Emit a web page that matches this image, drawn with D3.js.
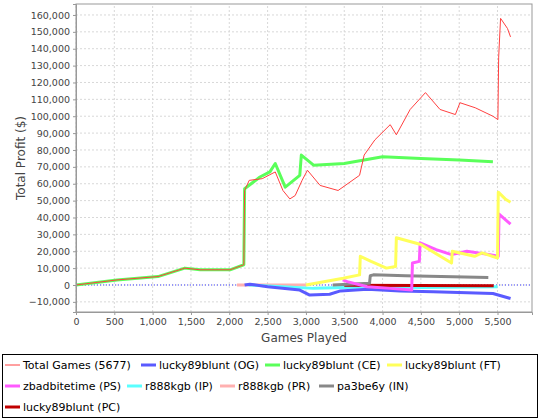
<!DOCTYPE html>
<html><head><meta charset="utf-8">
<script src="https://cdn.jsdelivr.net/npm/d3@7"></script>
<style>body{margin:0;background:#fff;font-family:"DejaVu Sans",sans-serif}</style>
</head><body><svg></svg>
<script>
const width = 540, height = 420;
const margin = {left: 76, top: 4, right: 8, bottom: 108};

// values: [games played, profit]
const totalGames = [[0,0],[535,3000],[1070,5000],[1420,10000],[1620,9000],[2010,9000],[2190,12000],[2200,56000],[2260,62000],[2430,63000],[2600,67000],[2700,56000],[2790,51000],[2860,53000],[2950,62000],[3020,68000],[3185,59000],[3420,56000],[3700,65000],[3760,77000],[3900,86000],[4100,95000],[4180,89000],[4360,104000],[4560,114000],[4750,104000],[4950,101000],[5010,108000],[5210,105000],[5440,100000],[5505,98000],[5515,135000],[5540,158000],[5630,152000],[5670,147000]];
const ogValues = [[2200,0],[2270,500],[2500,-1000],[2920,-3000],[3050,-6000],[3310,-5500],[3450,-3500],[3800,-2500],[4230,-3500],[4660,-4000],[5440,-5000],[5670,-8000]];
const ceValues = [[0,0],[535,3000],[1070,5000],[1420,10000],[1620,9000],[2010,9000],[2190,12000],[2200,57000],[2400,64000],[2530,67000],[2600,72000],[2730,58000],[2920,65000],[2940,77000],[3100,71000],[3500,72000],[4000,76000],[4500,75000],[5000,74000],[5440,73000]];
const ftValues = [[3000,0],[3486,4000],[3700,6000],[3710,17000],[3850,14000],[4050,10000],[4170,11000],[4180,28000],[4500,24000],[4900,13000],[4910,20000],[5200,17000],[5300,19000],[5500,16000],[5510,55000],[5600,51000],[5670,49000]];
const psValues = [[3480,3000],[3540,2000],[3800,-1000],[4100,-2000],[4380,-3000],[4390,13000],[4480,14000],[4490,25000],[4700,21000],[4900,18000],[5100,20000],[5400,18000],[5510,17000],[5520,42000],[5670,36000]];
const ipValues = [[2250,0],[2700,-1000],[3100,-2000],[3500,-1500],[4000,-1000],[4500,-1500],[5500,-1000]];
const prValues = [[2100,0],[3000,0]];
const inValues = [[3350,0],[3830,1000],[3840,5500],[3880,6000],[4300,5500],[5380,4500]];
const pcValues = [[3500,-200],[5450,-500]];

const seriesNames = ["Total Games (5677)","lucky89blunt (OG)","lucky89blunt (CE)","lucky89blunt (FT)","zbadbitetime (PS)","r888kgb (IP)","r888kgb (PR)","pa3be6y (IN)","lucky89blunt (PC)"];
const seriesData = [totalGames, ogValues, ceValues, ftValues, psValues, ipValues, prValues, inValues, pcValues];
const seriesColors = ["#ff4040","#5a5aff","#5aff5a","#ffff5a","#ff5aff","#5affff","#ffb0b0","#888888","#c00000"];
const yTicks = d3.range(-10000, 160001, 10000);
const xTicks = d3.range(0, 5501, 500);

const svg = d3.select("svg").attr("width", width).attr("height", height);
const x = d3.scaleLinear().domain([0, 5950]).range([margin.left, width - margin.right]);
const y = d3.scaleLinear().domain([-16000, 166500]).range([height - margin.bottom, margin.top]);
const fmt = d3.format(",");

svg.append("g").selectAll("line").data(yTicks).enter().append("line")
  .attr("x1", x.range()[0]).attr("x2", x.range()[1]).attr("y1", d => y(d)).attr("y2", d => y(d))
  .attr("stroke", "#d8d8d8").attr("stroke-dasharray", "2,2");
svg.append("g").selectAll("line").data(xTicks).enter().append("line")
  .attr("y1", y.range()[0]).attr("y2", y.range()[1]).attr("x1", d => x(d)).attr("x2", d => x(d))
  .attr("stroke", "#d8d8d8").attr("stroke-dasharray", "2,2");

// zero marker
svg.append("line").attr("x1", x.range()[0]).attr("x2", x.range()[1]).attr("y1", y(0)).attr("y2", y(0))
  .attr("stroke", "#4040ff").attr("stroke-dasharray", "1,2");

const line = d3.line().x(d => x(d[0])).y(d => y(d[1]));
const order = [6, 5, 8, 7, 1, 4, 3, 2, 0];
order.forEach(i => {
  svg.append("path").datum(seriesData[i]).attr("d", line).attr("fill", "none")
    .attr("stroke", seriesColors[i]).attr("stroke-width", i === 0 ? 1 : 3)
    .attr("stroke-linejoin", "round");
});

svg.append("rect").attr("x", x.range()[0]).attr("y", y.range()[1])
  .attr("width", x.range()[1] - x.range()[0]).attr("height", y.range()[0] - y.range()[1])
  .attr("fill", "none").attr("stroke", "#999");

const xAxis = svg.append("g").attr("transform", `translate(0,${y.range()[0]})`)
  .call(d3.axisBottom(x).tickValues(xTicks).tickFormat(fmt).tickSize(3));
const yAxis = svg.append("g").attr("transform", `translate(${x.range()[0]},0)`)
  .call(d3.axisLeft(y).tickValues(yTicks).tickFormat(fmt).tickSize(3));
[xAxis, yAxis].forEach(a => {
  a.select(".domain").attr("stroke", "#999");
  a.selectAll(".tick line").attr("stroke", "#999");
  a.selectAll("text").attr("font-family", "DejaVu Sans").attr("font-size", 9.5).attr("fill", "#444");
});

svg.append("text").attr("x", 304).attr("y", 342).attr("text-anchor", "middle")
  .attr("font-size", 12).attr("fill", "#444").text("Games Played");
svg.append("text").attr("transform", "translate(25,158) rotate(-90)").attr("text-anchor", "middle")
  .attr("font-size", 12).attr("fill", "#444").text("Total Profit ($)");

// legend
svg.append("rect").attr("x", 2.5).attr("y", 354.5).attr("width", 535).attr("height", 63)
  .attr("fill", "none").attr("stroke", "#000");
const legendPos = [[5,365],[141,365],[265,365],[387,365],[5,386],[127,386],[220,386],[319,386],[5,407]];
seriesNames.forEach((name, i) => {
  const [lx, ly] = legendPos[i];
  svg.append("line").attr("x1", lx).attr("x2", lx + 15).attr("y1", ly).attr("y2", ly)
    .attr("stroke", seriesColors[i]).attr("stroke-width", i === 0 ? 1 : 3);
  svg.append("text").attr("x", lx + 18).attr("y", ly + 4).attr("font-size", 11).attr("fill", "#000").text(name);
});
</script></body></html>
